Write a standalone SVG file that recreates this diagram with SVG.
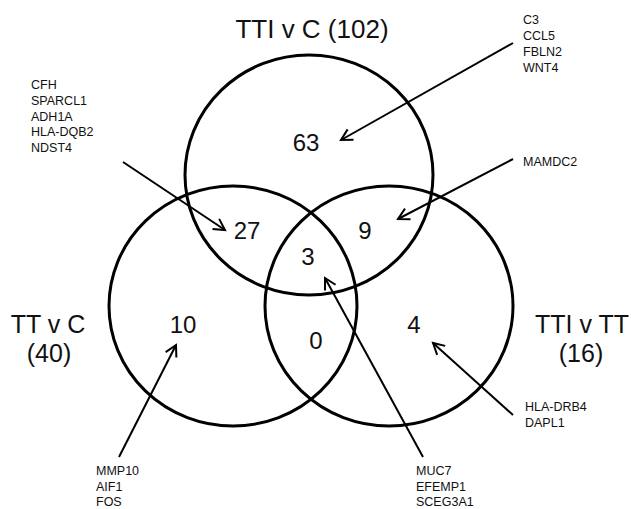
<svg xmlns="http://www.w3.org/2000/svg" width="631" height="509" viewBox="0 0 631 509">
<style>
.set{fill:none;stroke:#000;stroke-width:3}
.big{font-family:"Liberation Sans",Arial,sans-serif;font-size:25px;fill:#111;text-anchor:middle}
.num{font-family:"Liberation Sans",Arial,sans-serif;font-size:24px;fill:#111;text-anchor:middle}
.gene{font-family:"Liberation Sans",Arial,sans-serif;font-size:12.5px;fill:#111}
.arr{fill:none;stroke:#000;stroke-width:2;marker-end:url(#ah)}
</style>
<defs>
<marker id="ah" markerUnits="userSpaceOnUse" markerWidth="16" markerHeight="16" viewBox="-13 -8 16 16" refX="0" refY="0" orient="auto">
<path d="M-11,-6 L0,0 L-11,6" fill="none" stroke="#000" stroke-width="2"/>
</marker>
</defs>
<rect width="631" height="509" fill="#fff"/>
<g id="set-tti-v-c">
<ellipse class="set" cx="309" cy="175" rx="124" ry="120"/>
<text class="big" x="312" y="38" style="font-size:26px">TTI v C (102)</text>
</g>
<g id="set-tt-v-c">
<ellipse class="set" cx="233" cy="306" rx="124" ry="120"/>
<text class="big" x="48" y="333">TT v C</text>
<text class="big" x="49" y="362">(40)</text>
</g>
<g id="set-tti-v-tt">
<ellipse class="set" cx="389" cy="306" rx="124" ry="120"/>
<text class="big" x="582" y="333">TTI v TT</text>
<text class="big" x="581" y="362">(16)</text>
</g>
<g id="counts">
<text class="num" x="306" y="151">63</text>
<text class="num" x="247" y="239">27</text>
<text class="num" x="365" y="239">9</text>
<text class="num" x="308" y="265">3</text>
<text class="num" x="183" y="333">10</text>
<text class="num" x="316" y="349">0</text>
<text class="num" x="414" y="333">4</text>
</g>
<g id="genes-cfh">
<text class="gene" x="31" y="89">CFH</text>
<text class="gene" x="31" y="105">SPARCL1</text>
<text class="gene" x="31" y="121">ADH1A</text>
<text class="gene" x="31" y="136">HLA-DQB2</text>
<text class="gene" x="31" y="152">NDST4</text>
</g>
<g id="genes-c3">
<text class="gene" x="523" y="24">C3</text>
<text class="gene" x="523" y="40">CCL5</text>
<text class="gene" x="523" y="56">FBLN2</text>
<text class="gene" x="523" y="72">WNT4</text>
</g>
<g id="genes-mamdc2">
<text class="gene" x="523" y="166">MAMDC2</text>
</g>
<g id="genes-hla-drb4">
<text class="gene" x="525" y="411">HLA-DRB4</text>
<text class="gene" x="525" y="427">DAPL1</text>
</g>
<g id="genes-mmp10">
<text class="gene" x="96" y="475">MMP10</text>
<text class="gene" x="96" y="491">AIF1</text>
<text class="gene" x="96" y="506">FOS</text>
</g>
<g id="genes-muc7">
<text class="gene" x="416" y="475">MUC7</text>
<text class="gene" x="416" y="491">EFEMP1</text>
<text class="gene" x="416" y="506">SCEG3A1</text>
</g>
<g id="connectors">
<line class="arr" x1="123" y1="162" x2="225" y2="230"/>
<line class="arr" x1="513" y1="43" x2="341" y2="140"/>
<line class="arr" x1="513" y1="159" x2="398" y2="219"/>
<line class="arr" x1="119" y1="457" x2="176" y2="345"/>
<line class="arr" x1="423" y1="457" x2="325" y2="278"/>
<line class="arr" x1="513" y1="415" x2="433" y2="343"/>
</g>
</svg>
